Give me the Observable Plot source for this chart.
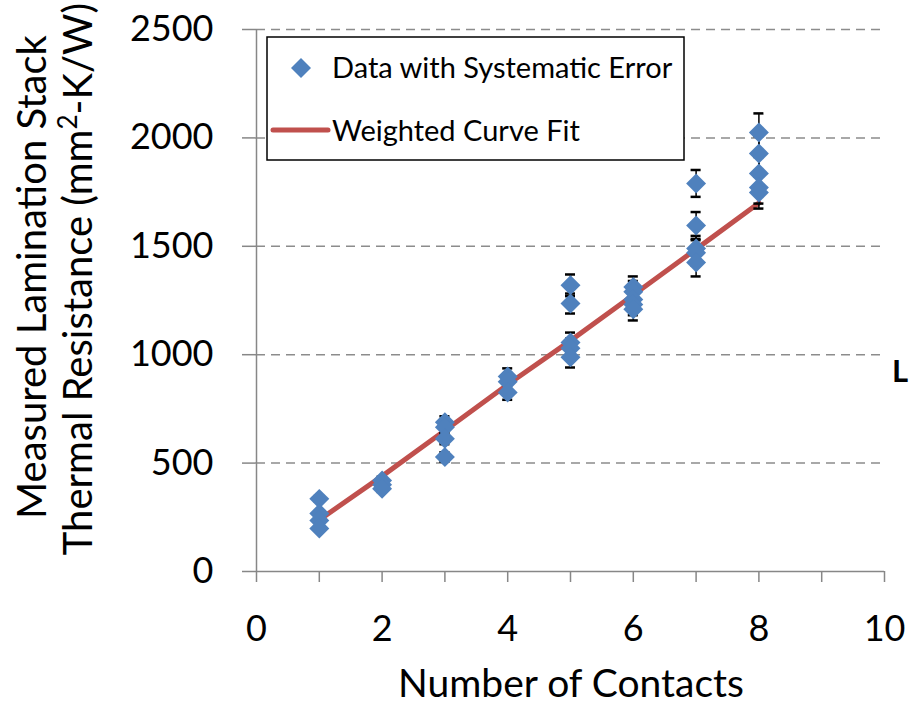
<!DOCTYPE html>
<html><head><meta charset="utf-8">
<script src="https://cdn.jsdelivr.net/npm/d3@7"></script>
<script src="https://cdn.jsdelivr.net/npm/@observablehq/plot@0.6"></script>
<style>body{margin:0;background:#fff;} #chart{position:relative;width:910px;height:704px;}</style>
</head><body><div id="chart"></div>
<script>
// Data
const contacts   = [1,1,1,1, 2,2,2, 3,3,3,3, 4,4,4, 5,5,5,5,5, 6,6,6,6,6, 7,7,7,7,7, 8,8,8,8,8];
const resistance = [335,268,235,198, 420,400,382, 688,665,612,528, 900,875,826,
                    1320,1236,1056,1030,988, 1312,1290,1255,1232,1210,
                    1790,1596,1490,1470,1425, 2025,1928,1836,1771,1748];
const errors     = [13,11,10,8, 17,16,15, 28,27,25,22, 37,36,34,
                    50,46,46,44,47, 49,50,50,50,52,
                    62,62,58,58,64, 88,80,76,74,74];
const fitContacts   = [1,2,3,4,5,6,7,8];
const fitResistance = [238,440,650,863,1065,1275,1487,1700];
const xTicks = [0,1,2,3,4,5,6,7,8,9,10];
const yTicks = [0,500,1000,1500,2000,2500];
const yGrid  = [500,1000,1500,2000,2500];
const seriesNames = ["Data with Systematic Error", "Weighted Curve Fit"];
const xTitle = "Number of Contacts";
const yTitle1 = "Measured Lamination Stack";

const points = contacts.map((c,i)=>({x:c, y:resistance[i], e:errors[i]}));
const fit = fitContacts.map((c,i)=>({x:c, y:fitResistance[i]}));
const font = "Lato, sans-serif";
const axisGray = "#878787";
const blue = "#4F81BD", red = "#C0504D";

const chart = Plot.plot({
  width: 910, height: 704,
  marginLeft: 256, marginRight: 26, marginTop: 29, marginBottom: 133,
  x: {domain: [0,10]},
  y: {domain: [0,2500]},
  style: {fontFamily: font, background: "white", color: "black", overflow: "visible"},
  marks: [
    Plot.gridY(yGrid, {stroke: "#8c8c8c", strokeOpacity: 1, strokeDasharray: "9,6", strokeWidth: 1.5}),
    Plot.axisY(yTicks, {tickSize: 14, tickPadding: 29, fontSize: 36, stroke: axisGray, strokeWidth: 1.5, label: null,
                        tickFormat: d => String(d)}),
    Plot.axisX(xTicks, {tickSize: 11, tickPadding: 33, fontSize: 36, stroke: axisGray, strokeWidth: 1.5, label: null,
                        tickFormat: d => d % 2 === 0 ? String(d) : ""}),
    Plot.ruleX([0], {stroke: axisGray, strokeWidth: 1.5}),
    Plot.ruleY([0], {stroke: axisGray, strokeWidth: 1.5}),
    Plot.line(fit, {x: "x", y: "y", stroke: red, strokeWidth: 5}),
    Plot.ruleX(points, {x: "x", y1: d => d.y - d.e, y2: d => d.y + d.e, stroke: "black", strokeWidth: 1.5}),
    Plot.ruleY(points, {y: d => d.y + d.e, x1: d => d.x - 0.08, x2: d => d.x + 0.08, stroke: "black", strokeWidth: 2.5}),
    Plot.ruleY(points, {y: d => d.y - d.e, x1: d => d.x - 0.08, x2: d => d.x + 0.08, stroke: "black", strokeWidth: 2.5}),
    Plot.dot(points, {x: "x", y: "y", symbol: "diamond2", r: 9, fill: blue, stroke: "none"})
  ]
});
document.getElementById("chart").appendChild(chart);

const svg = d3.select(chart);
// legend
const lg = svg.append("g").attr("font-family", font).attr("font-size", 29).attr("fill", "black").attr("text-anchor", "start");
lg.append("rect").attr("x", 267).attr("y", 37).attr("width", 417).attr("height", 123)
  .attr("fill", "white").attr("stroke", "black").attr("stroke-width", 1.5);
lg.append("path").attr("d", "M301,58L311,68L301,78L291,68Z").attr("fill", blue);
lg.append("text").attr("x", 332).attr("y", 78).text(seriesNames[0]);
lg.append("line").attr("x1", 273).attr("x2", 328).attr("y1", 130).attr("y2", 130)
  .attr("stroke", red).attr("stroke-width", 5).attr("stroke-linecap", "round");
lg.append("text").attr("x", 332).attr("y", 141).text(seriesNames[1]);

// axis titles
svg.append("text").attr("x", 571).attr("y", 697).attr("text-anchor", "middle")
  .attr("font-family", font).attr("font-size", 39).attr("fill", "black").text(xTitle);
svg.append("text").attr("transform", "translate(46,277) rotate(-90)").attr("text-anchor", "middle")
  .attr("font-family", font).attr("font-size", 40).attr("fill", "black").text(yTitle1);
const t2 = svg.append("text").attr("transform", "translate(92,279) rotate(-90)").attr("text-anchor", "middle")
  .attr("font-family", font).attr("font-size", 40).attr("fill", "black");
t2.append("tspan").text("Thermal Resistance (mm");
t2.append("tspan").attr("dy", -15).attr("font-size", 26).text("2");
t2.append("tspan").attr("dy", 15).text("-K/W)");

// bold letter at the right edge
svg.append("text").attr("x", 892).attr("y", 382).attr("font-family", font).attr("font-weight", "bold")
  .attr("font-size", 31).attr("fill", "black").attr("text-anchor", "start").text("L");
</script></body></html>
